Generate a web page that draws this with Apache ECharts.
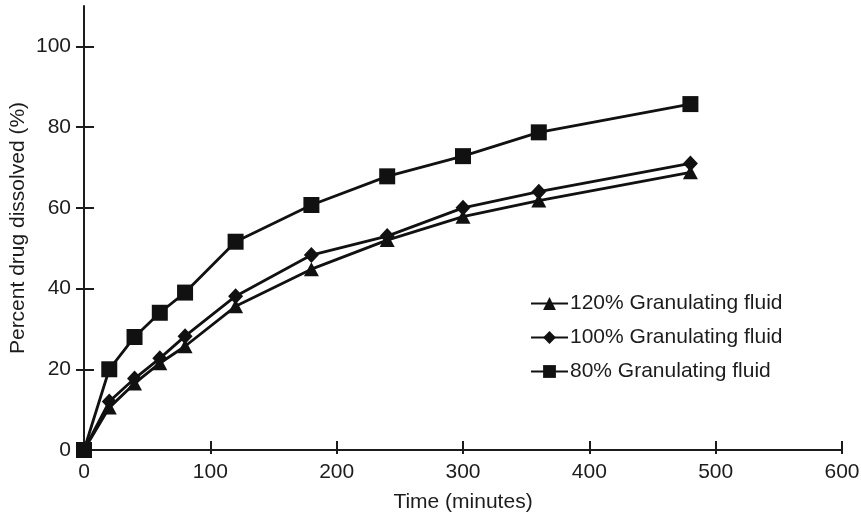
<!DOCTYPE html>
<html>
<head>
<meta charset="utf-8">
<script src="https://cdn.jsdelivr.net/npm/echarts@6/dist/echarts.min.js"></script>
<style>
  html, body { margin: 0; padding: 0; background: #fff; }
  #chart { width: 861px; height: 516px; }
</style>
</head>
<body>
<div id="chart"></div>
<script>
// Sampling times (minutes)
const times = [0, 20, 40, 60, 80, 120, 180, 240, 300, 360, 480];
// Percent drug dissolved for each granulating fluid level
const fluid120 = [0, 10.5, 16.5, 21.5, 25.7, 35.6, 44.8, 52, 57.8, 61.8, 68.8];
const fluid100 = [0, 12, 17.7, 22.7, 28.2, 38.1, 48.3, 53, 60, 64, 71];
const fluid80  = [0, 20, 28, 34, 39, 51.6, 60.7, 67.8, 72.8, 78.7, 85.7];
const seriesNames = ['120% Granulating fluid', '100% Granulating fluid', '80% Granulating fluid'];
const yTicks = [0, 20, 40, 60, 80, 100];

const FONT = 'Liberation Sans, Arial, Helvetica, sans-serif';
const INK = '#1c1c1c';
const FS = 21;

function pairs(vals) { return times.map((t, i) => [t, vals[i]]); }

function lineSeries(name, vals, symbol, size) {
  return {
    name: name,
    type: 'line',
    data: pairs(vals),
    symbol: symbol,
    symbolSize: size,
    showAllSymbol: true,
    lineStyle: { color: '#111', width: 2.8 },
    itemStyle: { color: '#111', borderWidth: 0 },
    emphasis: { disabled: true },
    animation: false,
    z: 3
  };
}

const chart = echarts.init(document.getElementById('chart'), null, { renderer: 'canvas' });

const xCommon = { type: 'value', min: 0, max: 600, interval: 100, gridIndex: 0, position: 'bottom' };
const yCommon = { type: 'value', min: 0, max: 110, gridIndex: 0, position: 'left', splitLine: { show: false } };

chart.setOption({
  backgroundColor: '#fff',
  animation: false,
  textStyle: { fontFamily: FONT, color: INK },
  grid: { left: 84, right: 19, top: 6, bottom: 66, containLabel: false, outerBoundsMode: 'none' },
  legend: {
    orient: 'vertical',
    left: 530,
    top: 293,
    padding: 0,
    itemWidth: 37,
    itemHeight: 16,
    itemGap: 13,
    data: seriesNames,
    textStyle: { fontFamily: FONT, fontSize: FS, color: INK, padding: [0, 0, 0, -3] },
    selectedMode: false
  },
  xAxis: [
    Object.assign({}, xCommon, {
      name: 'Time (minutes)',
      nameLocation: 'middle',
      nameGap: 42,
      nameMoveOverlap: false,
      nameTextStyle: { fontFamily: FONT, fontSize: FS, color: INK },
      axisLine: { show: true, onZero: false, lineStyle: { color: INK, width: 2 } },
      axisTick: { show: true, inside: false, length: 4, lineStyle: { color: INK, width: 2 } },
      axisLabel: { show: true, margin: 12, fontFamily: FONT, fontSize: FS, color: INK },
      splitLine: { show: false }
    }),
    Object.assign({}, xCommon, {
      axisLine: { show: false },
      axisTick: { show: true, inside: true, length: 9, lineStyle: { color: INK, width: 2 } },
      axisLabel: { show: false },
      splitLine: { show: false }
    })
  ],
  yAxis: [
    Object.assign({}, yCommon, {
      name: 'Percent drug dissolved (%)',
      nameLocation: 'middle',
      nameGap: 55,
      nameMoveOverlap: false,
      nameRotate: 90,
      nameTextStyle: { fontFamily: FONT, fontSize: FS, color: INK },
      axisLine: { show: true, onZero: false, lineStyle: { color: INK, width: 2 } },
      axisTick: { show: true, inside: false, length: 8, customValues: yTicks, lineStyle: { color: INK, width: 2 } },
      axisLabel: { show: true, margin: 13, customValues: yTicks, fontFamily: FONT, fontSize: FS, color: INK }
    }),
    Object.assign({}, yCommon, {
      axisLine: { show: false },
      axisTick: { show: true, inside: true, length: 10, customValues: yTicks, lineStyle: { color: INK, width: 2 } },
      axisLabel: { show: false }
    })
  ],
  series: [
    lineSeries(seriesNames[0], fluid120, 'triangle', [15, 14]),
    lineSeries(seriesNames[1], fluid100, 'diamond', [15, 16]),
    lineSeries(seriesNames[2], fluid80, 'rect', 16)
  ]
});
</script>
</body>
</html>
